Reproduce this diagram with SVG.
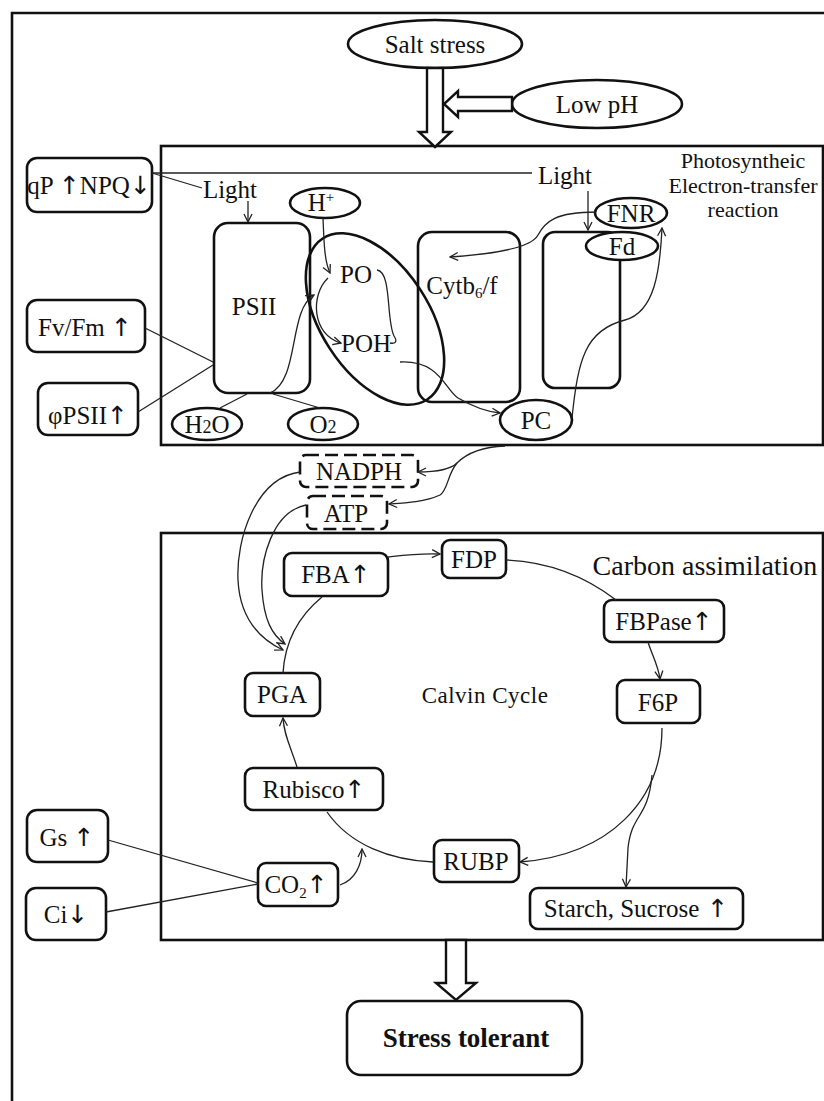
<svg xmlns="http://www.w3.org/2000/svg" width="824" height="1101" viewBox="0 0 824 1101">
<style>
text{font-family:"Liberation Serif","DejaVu Serif",serif;font-size:25px;fill:#111;text-anchor:middle}
.arr{font-family:"DejaVu Sans","Liberation Sans",sans-serif;font-size:25px}
.box{fill:#fff;stroke:#111;stroke-width:2.6}
.open{fill:none;stroke:#111;stroke-width:2.6}
.frame{fill:none;stroke:#111;stroke-width:2.6}
.dash{fill:#fff;stroke:#111;stroke-width:2.6;stroke-dasharray:13 6}
.ln{fill:none;stroke:#222;stroke-width:1.3}
.la{fill:none;stroke:#222;stroke-width:1.3;marker-end:url(#ah)}
.blk{fill:#fff;stroke:#111;stroke-width:2.4;stroke-linejoin:miter}
</style>
<defs>
<marker id="ah" viewBox="0 0 10 10" refX="9" refY="5" markerWidth="10" markerHeight="10" markerUnits="userSpaceOnUse" orient="auto">
<path d="M1,1 L9,5 L1,9" fill="none" stroke="#222" stroke-width="1.3"/>
</marker>
</defs>
<rect width="824" height="1101" fill="#fff"/>
<path class="frame" d="M12,1101 V13 H826"/>

<g id="frames">
<rect class="frame" x="161" y="146" width="662" height="299"/>
<rect class="frame" x="161" y="533" width="662" height="407"/>
</g>

<g id="salt-stress"><ellipse class="box" cx="435" cy="44" rx="87" ry="24"/><text x="435" y="53">Salt stress</text></g>
<g id="low-ph"><ellipse class="box" cx="597" cy="104" rx="85" ry="24"/><text x="597" y="113">Low pH</text></g>
<g id="block-arrows">
<polygon class="blk" points="427,68 443,68 443,132 451,132 435,147 419,132 427,132"/>
<polygon class="blk" points="512,97 458,97 458,91 444,104 458,117 458,111 512,111"/>
<polygon class="blk" points="446,940 466,940 466,983 476,983 456,1000 436,983 446,983"/>
</g>

<g id="title-photo">
<text x="743" y="168" style="font-size:22px">Photosyntheic</text>
<text x="743" y="193" style="font-size:22px">Electron-transfer</text>
<text x="743" y="217" style="font-size:22px">reaction</text>
</g>
<g id="title-carbon"><text x="705" y="575" style="font-size:28px">Carbon assimilation</text></g>
<g id="title-calvin"><text x="485" y="703" style="font-size:23px;letter-spacing:0.5px">Calvin Cycle</text></g>

<g id="light1"><text x="230" y="198">Light</text></g>
<g id="light2"><text x="565" y="184">Light</text></g>

<g id="qp-npq"><rect class="box" x="27" y="158" width="125" height="54" rx="10"/><text x="89" y="194">qP <tspan class="arr">↑</tspan>NPQ<tspan class="arr">↓</tspan></text></g>
<g id="fvfm"><rect class="box" x="27" y="300" width="118" height="52" rx="10"/><text x="85" y="336">Fv/Fm <tspan class="arr">↑</tspan></text></g>
<g id="phipsii"><rect class="box" x="38" y="383" width="100" height="52" rx="10"/><text x="88" y="424">φPSII<tspan class="arr">↑</tspan></text></g>

<g id="psii"><rect class="box" x="214" y="223" width="96" height="170" rx="14"/><text x="254" y="315">PSII</text></g>
<g id="cytb6f"><rect class="open" x="418" y="232" width="102" height="170" rx="14"/><text x="462" y="294">Cytb<tspan dy="4" style="font-size:15px">6</tspan><tspan dy="-4">/f</tspan></text></g>
<g id="pq-pool"><ellipse fill="none" stroke="#111" stroke-width="2.6" cx="375" cy="319" rx="96" ry="54" transform="rotate(57 375 319)"/></g>
<g id="pq"><text x="356" y="283">PO</text></g>
<g id="pqh"><text x="366" y="352">POH</text></g>
<g id="hplus"><ellipse class="box" cx="325" cy="203" rx="35" ry="15"/><text x="321" y="211">H<tspan dy="-9" style="font-size:15px">+</tspan></text></g>
<g id="psi"><rect class="open" x="543" y="232" width="77" height="156" rx="12"/></g>
<g id="fnr"><ellipse class="box" cx="631" cy="213" rx="36" ry="15"/><text x="631" y="222">FNR</text></g>
<g id="fd"><ellipse class="box" cx="622" cy="246" rx="36" ry="14"/><text x="622" y="255">Fd</text></g>
<g id="pc"><ellipse class="box" cx="536" cy="420" rx="36" ry="20"/><text x="536" y="429">PC</text></g>
<g id="h2o"><ellipse class="box" cx="207" cy="424" rx="35" ry="16"/><text x="207" y="433">H<tspan style="font-size:18px">2</tspan>O</text></g>
<g id="o2"><ellipse class="box" cx="323" cy="424" rx="35" ry="16"/><text x="323" y="433">O<tspan style="font-size:18px">2</tspan></text></g>

<g id="nadph"><rect class="dash" x="300" y="455" width="118" height="32" rx="6"/><text x="359" y="480">NADPH</text></g>
<g id="atp"><rect class="dash" x="307" y="496" width="80" height="33" rx="6"/><text x="346" y="522">ATP</text></g>

<g id="fba"><rect class="box" x="284" y="553" width="104" height="43" rx="8"/><text x="336" y="583">FBA<tspan class="arr">↑</tspan></text></g>
<g id="fdp"><rect class="box" x="442" y="540" width="64" height="38" rx="8"/><text x="474" y="568">FDP</text></g>
<g id="fbpase"><rect class="box" x="604" y="600" width="120" height="42" rx="8"/><text x="664" y="630">FBPase<tspan class="arr">↑</tspan></text></g>
<g id="f6p"><rect class="box" x="617" y="680" width="83" height="43" rx="8"/><text x="658" y="711">F6P</text></g>
<g id="pga"><rect class="box" x="245" y="673" width="75" height="43" rx="8"/><text x="282" y="703">PGA</text></g>
<g id="rubisco"><rect class="box" x="245" y="768" width="138" height="42" rx="8"/><text x="314" y="798">Rubisco<tspan class="arr">↑</tspan></text></g>
<g id="rubp"><rect class="box" x="434" y="840" width="85" height="42" rx="8"/><text x="476" y="870">RUBP</text></g>
<g id="co2"><rect class="box" x="258" y="863" width="80" height="43" rx="8"/><text x="296" y="893">CO<tspan dy="5" style="font-size:15px">2</tspan><tspan dy="-5" class="arr">↑</tspan></text></g>
<g id="starch"><rect class="box" x="530" y="888" width="213" height="41" rx="8"/><text x="636" y="917">Starch, Sucrose<tspan class="arr"> ↑</tspan></text></g>
<g id="gs"><rect class="box" x="27" y="810" width="81" height="52" rx="10"/><text x="67" y="846">Gs <tspan class="arr">↑</tspan></text></g>
<g id="ci"><rect class="box" x="26" y="888" width="80" height="52" rx="10"/><text x="66" y="923">Ci<tspan class="arr">↓</tspan></text></g>

<g id="stress-tolerant"><rect class="box" x="347" y="1001" width="235" height="74" rx="14"/><text x="466" y="1047" style="font-weight:bold;font-size:27px">Stress tolerant</text></g>

<g id="connectors">
<path class="ln" d="M152,173 L532,173"/>
<path class="ln" d="M152,173 L202,188"/>
<path class="la" d="M248,201 L248,222"/>
<path class="la" d="M588,191 L588,230"/>
<path class="ln" d="M145,328 L213,362"/>
<path class="ln" d="M138,412 L213,365"/>
<path class="ln" d="M247,394 L220,408"/>
<path class="ln" d="M273,394 L320,408"/>
<path class="la" d="M270,393 C300,380 288,310 314,295"/>
<path class="la" d="M323,218 C324,240 324,260 330,273"/>
<path class="la" d="M328,278 C310,295 312,335 341,343"/>
<path class="ln" d="M377,270 C392,272 386,320 394,336 C398,342 395,344 390,343"/>
<path class="la" d="M400,362 C440,360 445,390 458,398 C475,408 490,412 500,413"/>
<path class="la" d="M572,418 C578,360 585,330 625,320 C655,312 660,270 662,228"/>
<path class="la" d="M596,212 C555,212 545,222 538,235 C530,250 480,255 450,257"/>
<path class="la" d="M505,446 C480,447 465,455 457,463 C450,470 435,472 418,472"/>
<path class="la" d="M457,463 C447,475 448,490 440,495 C425,502 405,503 389,504"/>
<path class="la" d="M300,472 C255,478 236,540 238,580 C240,620 262,640 283,650"/>
<path class="la" d="M306,505 C272,512 260,560 262,590 C264,620 272,635 285,644"/>
<path class="ln" d="M283,673 C285,640 300,615 322,597"/>
<path class="la" d="M388,557 C405,555 420,553 440,554"/>
<path class="ln" d="M506,560 C555,562 590,580 616,600"/>
<path class="la" d="M648,642 C652,655 658,665 660,679"/>
<path class="la" d="M662,728 C662,800 610,855 520,862"/>
<path class="la" d="M652,775 C648,820 632,812 628,848 L626,887"/>
<path class="ln" d="M433,862 C390,860 350,845 327,812"/>
<path class="la" d="M297,767 C290,745 284,735 283,718"/>
<path class="la" d="M340,885 C355,880 362,865 362,849"/>
<path class="ln" d="M108,840 L258,883"/>
<path class="ln" d="M106,912 L258,884"/>
</g>
</svg>
